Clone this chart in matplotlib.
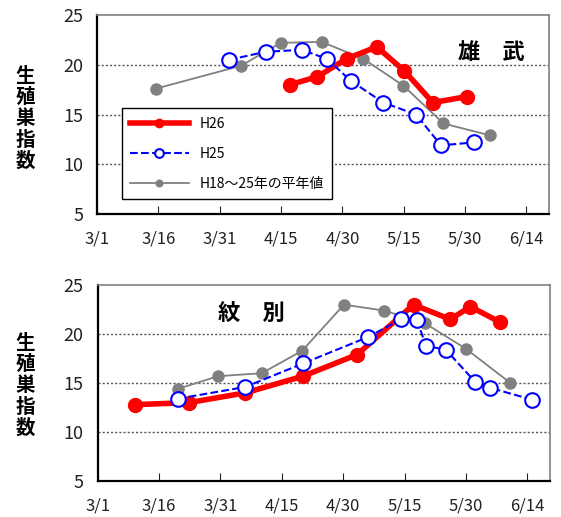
import matplotlib
matplotlib.use("Agg")
import matplotlib.pyplot as plt

plt.rcParams['font.family'] = ['Noto Sans CJK JP', 'DejaVu Sans']

# days counted from 3/1
tick_days = [0, 15, 30, 45, 60, 75, 90, 105]
tick_labels = ["3/1", "3/16", "3/31", "4/15", "4/30", "5/15", "5/30", "6/14"]

# 雄武
oumu_h26_day = [47.2, 53.9, 61.0, 68.4, 75.1, 82.1, 90.4]
oumu_h26_val = [18.0, 18.8, 20.6, 21.8, 19.4, 16.2, 16.8]
oumu_h25_day = [32.3, 41.2, 50.0, 56.2, 62.0, 70.0, 78.0, 84.1, 92.2]
oumu_h25_val = [20.5, 21.3, 21.5, 20.6, 18.4, 16.2, 15.0, 11.9, 12.2]
oumu_avg_day = [14.4, 35.2, 44.9, 54.9, 65.1, 74.9, 84.7, 96.1]
oumu_avg_val = [17.6, 19.9, 22.2, 22.3, 20.6, 17.9, 14.1, 12.9]

# 紋別
mombetsu_h26_day = [9.2, 22.3, 36.1, 50.2, 63.4, 77.2, 86.2, 91.1, 98.4]
mombetsu_h26_val = [12.8, 13.0, 14.0, 15.7, 17.9, 23.0, 21.5, 22.8, 21.2]
mombetsu_h25_day = [19.6, 36.1, 50.2, 66.1, 74.1, 78.1, 80.2, 85.1, 92.3, 96.0, 106.2]
mombetsu_h25_val = [13.4, 14.6, 17.0, 19.7, 21.5, 21.4, 18.8, 18.4, 15.1, 14.5, 13.3]
mombetsu_avg_day = [19.6, 29.4, 40.1, 50.0, 60.2, 70.0, 80.0, 90.0, 100.9]
mombetsu_avg_val = [14.4, 15.7, 16.0, 18.3, 23.0, 22.4, 21.1, 18.5, 15.0]


def draw_panel(ax, h26, h25, avg):
    ax.plot(avg[0], avg[1], "-o", color="#808080", lw=1.3, ms=8,
            label="H18～25年の平年値", zorder=3)
    ax.plot(h26[0], h26[1], "-o", color="#FF0000", lw=4, ms=10,
            label="H26", zorder=4)
    ax.plot(h25[0], h25[1], "--o", color="#0000FF", lw=1.5, ms=10.5,
            mfc="white", mec="#0000FF", mew=1.5, label="H25", zorder=5)
    ax.set_xlim(0, 110.5)
    ax.set_ylim(5, 25)
    ax.set_yticks([5, 10, 15, 20, 25])
    ax.set_xticks(tick_days)
    ax.set_xticklabels(tick_labels)
    ax.tick_params(axis="x", direction="in", length=6, pad=12,
                   labelsize=12, colors="#222222")
    ax.tick_params(axis="y", length=0, pad=10, labelsize=13, colors="#222222")
    for v in [10, 15, 20]:
        ax.axhline(v, color="#555555", lw=1, ls=(0, (1.5, 1.5)), zorder=1)
    for s in ["left", "bottom"]:
        ax.spines[s].set_color("black")
        ax.spines[s].set_linewidth(1.6)
    for s in ["top", "right"]:
        ax.spines[s].set_color("#808080")
        ax.spines[s].set_linewidth(1.2)


fig = plt.figure(figsize=(5.61, 5.17), dpi=100)
ax1 = fig.add_axes([0.1729, 0.586, 0.8057, 0.385])
ax2 = fig.add_axes([0.174, 0.0696, 0.806, 0.379])

draw_panel(ax1, (oumu_h26_day, oumu_h26_val), (oumu_h25_day, oumu_h25_val),
           (oumu_avg_day, oumu_avg_val))
draw_panel(ax2, (mombetsu_h26_day, mombetsu_h26_val),
           (mombetsu_h25_day, mombetsu_h25_val),
           (mombetsu_avg_day, mombetsu_avg_val))

handles, labels = ax1.get_legend_handles_labels()
order = [1, 2, 0]
leg = ax1.legend([handles[i] for i in order], [labels[i] for i in order],
                 loc="lower left", bbox_to_anchor=(0.055, 0.075),
                 fontsize=10, handlelength=4.2, labelspacing=1.15,
                 borderpad=0.6, fancybox=False, framealpha=1,
                 edgecolor="black", borderaxespad=0, markerscale=0.6)
leg.get_frame().set_linewidth(1)
leg.set_zorder(10)

ax1.text(0.872, 0.814, "雄　武", transform=ax1.transAxes, fontsize=16,
         fontweight="bold", ha="center", va="center")
ax2.text(0.341, 0.857, "紋　別", transform=ax2.transAxes, fontsize=16,
         fontweight="bold", ha="center", va="center")

ylabel = "\n".join("生殖巣指数")
fig.text(0.045, 1 - 119 / 517, ylabel, fontsize=14, fontweight="bold",
         ha="center", va="center", linespacing=1.15)
fig.text(0.045, 1 - 386 / 517, ylabel, fontsize=14, fontweight="bold",
         ha="center", va="center", linespacing=1.15)

fig.savefig("out.png", dpi=100)
